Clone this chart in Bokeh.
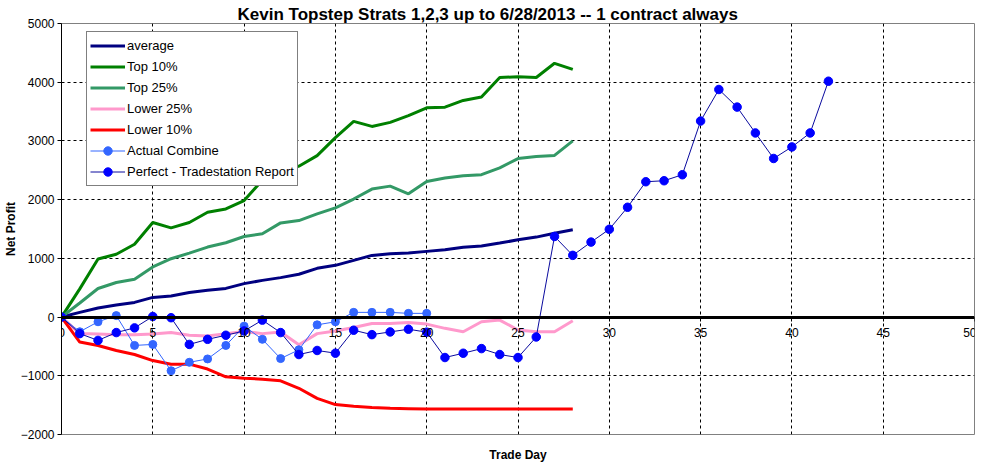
from bokeh.plotting import figure
from bokeh.models import FixedTicker, Title, Range1d, LinearAxis
from bokeh.embed import file_html
from bokeh.resources import INLINE

days = list(range(29))
average = [0, 80, 155, 205, 250, 335, 360, 418, 455, 488, 570, 625, 672, 729, 830, 881, 966, 1050, 1079, 1090,
           1119, 1147, 1190, 1210, 1260, 1316, 1362, 1429, 1486]
top10 = [0, 480, 990, 1070, 1240, 1610, 1520, 1610, 1785, 1842, 1985, 2330, 2460, 2570, 2750, 3057, 3333, 3247, 3316,
         3431, 3563, 3575, 3690, 3747, 4080, 4092, 4080, 4322, 4218]
top25 = [0, 240, 486, 588, 644, 853, 994, 1090, 1192, 1266, 1373, 1418, 1604, 1644, 1757, 1859, 2010, 2180, 2230,
         2100, 2310, 2368, 2408, 2425, 2540, 2700, 2736, 2753, 3000]
lower25 = [0, -280, -290, -300, -300, -290, -264, -310, -322, -282, -245, -282, -253, -471, -282, -236, -178, -109,
           -109, -92, -120, -192, -249, -79, -51, -220, -249, -249, -62]
lower10 = [0, -425, -483, -569, -638, -741, -802, -802, -885, -1017, -1040, -1057, -1086, -1213, -1385, -1490, -1517,
           -1540, -1555, -1560, -1565, -1565, -1565, -1565, -1565, -1565, -1565, -1565, -1565]
actual_days = list(range(21))
actual = [0, -250, -80, 25, -483, -466, -914, -770, -713, -483, -155, -379, -707, -557, -132, -80, 80, 80, 80, 63, 63]
perfect_days = list(range(43))
perfect = [0, -282, -397, -264, -184, 10, -11, -466, -379, -310, -236,
           -52, -264, -638, -569, -615, -224, -299, -253, -207, -257,
           -689, -616, -537, -638, -689, -339, 1373, 1051, 1277, 1495,
           1870, 2305, 2322, 2424, 3339, 3876, 3576, 3136, 2701, 2898, 3136, 4017]

x_ticks = list(range(0, 51, 5))
y_ticks = list(range(-2000, 5001, 1000))

FONT = "Liberation Sans"

p = figure(frame_width=913, frame_height=411, output_backend="svg", toolbar_location=None,
           x_range=Range1d(0, 50), y_range=Range1d(-2000, 5000),
           min_border_left=54, min_border_right=2, min_border_top=23, min_border_bottom=20)
p.title = None
p.background_fill_color = "white"
p.border_fill_color = "white"
p.outline_line_color = "#808080"
p.outline_line_width = 1

title = Title(text="Kevin Topstep Strats 1,2,3 up to 6/28/2013  -- 1 contract always",
              align="left", offset=176, standoff=0,
              text_font=FONT, text_font_size="17px", text_font_style="bold", text_color="black")
p.add_layout(title, "above")

# axis at zero carrying the day ticks
p.xaxis.fixed_location = 0
p.xaxis.ticker = FixedTicker(ticks=x_ticks)
p.xaxis.axis_line_color = "black"
p.xaxis.axis_line_width = 3
p.xaxis.major_tick_line_color = "black"
p.xaxis.major_tick_out = 4
p.xaxis.major_tick_in = 0
p.xaxis.minor_tick_line_color = None
p.xaxis.major_label_text_font = FONT
p.xaxis.major_label_text_font_size = "12px"
p.xaxis.major_label_text_color = "black"
p.xaxis.major_label_standoff = 7

# bottom axis only carrying the axis title
bottom = LinearAxis(ticker=FixedTicker(ticks=x_ticks), axis_label="Trade Day")
bottom.axis_line_color = None
bottom.major_tick_line_color = None
bottom.minor_tick_line_color = None
bottom.major_tick_out = 0
bottom.major_tick_in = 0
bottom.major_label_text_color = None
bottom.major_label_text_font = FONT
bottom.major_label_text_font_size = "10px"
bottom.major_label_standoff = 0
bottom.axis_label_standoff = 13
bottom.axis_label_text_font = FONT
bottom.axis_label_text_font_size = "12px"
bottom.axis_label_text_font_style = "bold"
bottom.axis_label_text_color = "black"
p.add_layout(bottom, "below")

p.yaxis.ticker = FixedTicker(ticks=y_ticks)
p.yaxis.axis_line_color = "black"
p.yaxis.axis_line_width = 1
p.yaxis.major_tick_line_color = "black"
p.yaxis.major_tick_out = 4
p.yaxis.major_tick_in = 0
p.yaxis.minor_tick_line_color = None
p.yaxis.major_label_text_font = FONT
p.yaxis.major_label_text_font_size = "12px"
p.yaxis.major_label_text_color = "black"
p.yaxis.major_label_standoff = 3
p.yaxis.axis_label = "Net Profit"
p.yaxis.axis_label_text_font = FONT
p.yaxis.axis_label_text_font_size = "12px"
p.yaxis.axis_label_text_font_style = "bold"
p.yaxis.axis_label_text_color = "black"
p.yaxis.axis_label_standoff = 0

for g in (p.xgrid, p.ygrid):
    g.grid_line_color = "black"
    g.grid_line_dash = "3 3"
    g.grid_line_width = 1
p.xgrid.ticker = FixedTicker(ticks=x_ticks)
p.ygrid.ticker = FixedTicker(ticks=y_ticks)

# series
p.line(days, average, line_color="#000080", line_width=3, legend_label="average")
p.line(days, top10, line_color="#008000", line_width=3, legend_label="Top 10%")
p.line(days, top25, line_color="#339966", line_width=3, legend_label="Top 25%")
p.line(days, lower25, line_color="#FF99CC", line_width=3, legend_label="Lower 25%")
p.line(days, lower10, line_color="#FF0000", line_width=3, legend_label="Lower 10%")
p.line(actual_days, actual, line_color="#3366FF", line_width=1, legend_label="Actual Combine")
p.scatter(actual_days, actual, marker="circle", size=8, fill_color="#3366FF", line_color="#3366FF",
          legend_label="Actual Combine")
p.line(perfect_days, perfect, line_color="#0A0A9E", line_width=1, legend_label="Perfect - Tradestation Report")
p.scatter(perfect_days, perfect, marker="circle", size=8.5, fill_color="#0000FF", line_color="#0000FF",
          legend_label="Perfect - Tradestation Report")

lg = p.legend[0]
lg.location = (25, 248)
lg.border_line_color = "black"
lg.border_line_width = 1
lg.background_fill_color = "white"
lg.background_fill_alpha = 1
lg.label_text_font = FONT
lg.label_text_font_size = "13px"
lg.label_text_color = "black"
lg.glyph_width = 35
lg.glyph_height = 21
lg.label_height = 21
lg.spacing = 0
lg.padding = 3
lg.margin = 0
lg.label_standoff = 2

open("out.html", "w").write(file_html(p, INLINE))
